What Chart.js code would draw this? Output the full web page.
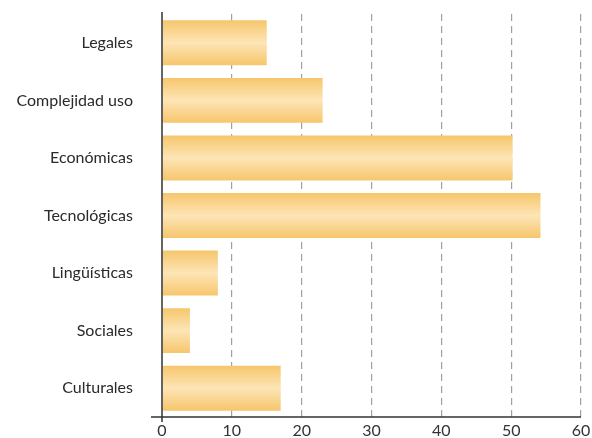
<!DOCTYPE html>
<html>
<head>
<meta charset="utf-8">
<script src="https://cdn.jsdelivr.net/npm/chart.js@4"></script>
<style>
  html, body { margin: 0; padding: 0; background: #fff; }
  #wrap { width: 592px; height: 438px; }
</style>
</head>
<body>
<div id="wrap"><canvas id="chart"></canvas></div>
<script>
const categories = ['Legales', 'Complejidad uso', 'Económicas', 'Tecnológicas', 'Lingüísticas', 'Sociales', 'Culturales'];
const values = [15, 23, 50.2, 54.2, 8, 4, 17];
const xTicks = [0, 10, 20, 30, 40, 50, 60];

const BAR_PCT = 0.78;

// vertical gradient per bar, from the scale position of its category
const barFill = (c) => {
    const chart = c.chart;
    const y = chart.scales.y;
    if (!y || !chart.chartArea) return '#f7cf84';
    const mid = y.getPixelForValue(c.dataIndex);
    const half = (y.height / categories.length) * BAR_PCT / 2;
    const g = chart.ctx.createLinearGradient(0, mid - half, 0, mid + half);
    g.addColorStop(0, '#f6c66c');
    g.addColorStop(0.5, '#fde5b6');
    g.addColorStop(1, '#f6c66c');
    return g;
};

// axis lines that cross a little past the origin
const axisCross = {
    id: 'axisCross',
    afterDatasetsDraw(chart) {
        const { ctx, chartArea: a } = chart;
        ctx.save();
        ctx.strokeStyle = '#333';
        ctx.lineWidth = 1.5;
        ctx.beginPath();
        ctx.moveTo(a.left - 11, a.bottom);
        ctx.lineTo(a.right, a.bottom);
        ctx.moveTo(a.left, a.top - 2);
        ctx.lineTo(a.left, a.bottom + 5);
        ctx.stroke();
        ctx.restore();
    }
};

new Chart(document.getElementById('chart').getContext('2d'), {
    type: 'bar',
    data: {
        labels: categories,
        datasets: [{
            data: values,
            backgroundColor: barFill,
            borderWidth: 0,
            barPercentage: BAR_PCT,
            categoryPercentage: 1
        }]
    },
    options: {
        indexAxis: 'y',
        responsive: true,
        maintainAspectRatio: false,
        animation: false,
        layout: { padding: { top: 14, right: 11, left: 0, bottom: 0 } },
        plugins: {
            legend: { display: false },
            tooltip: { enabled: false }
        },
        scales: {
            x: {
                min: 0,
                max: 60,
                afterBuildTicks: (s) => { s.ticks = xTicks.map(v => ({ value: v })); },
                grid: {
                    color: (c) => c.tick && c.tick.value === 0 ? 'rgba(0,0,0,0)' : '#a0a0a0',
                    lineWidth: 1.2,
                    drawTicks: false
                },
                border: { display: false, dash: [7, 5] },
                ticks: {
                    color: '#333',
                    padding: 4,
                    font: { family: 'Lato', size: 16 }
                },
                afterFit: (s) => { s.height = 21; s.paddingLeft = 0; s.paddingRight = 0; }
            },
            y: {
                grid: { display: false },
                border: { display: false },
                ticks: {
                    color: '#2a2a2a',
                    padding: 21,
                    font: { family: 'Lato', size: 16 }
                },
                afterFit: (s) => { s.width = 162; s.paddingTop = 0; s.paddingBottom = 0; }
            }
        }
    },
    plugins: [axisCross]
});
</script>
</body>
</html>
